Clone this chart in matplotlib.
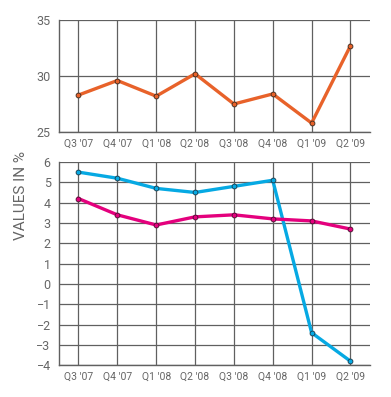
import matplotlib
matplotlib.use('Agg')
import matplotlib.pyplot as plt

quarters = ["Q3 '07", "Q4 '07", "Q1 '08", "Q2 '08", "Q3 '08", "Q4 '08", "Q1 '09", "Q2 '09"]
top_vals = [28.3, 29.6, 28.2, 30.2, 27.5, 28.4, 25.8, 32.7]
blue_vals = [5.5, 5.2, 4.7, 4.5, 4.8, 5.1, -2.4, -3.8]
pink_vals = [4.2, 3.4, 2.9, 3.3, 3.4, 3.2, 3.1, 2.7]

ORANGE = '#E8622A'
BLUE = '#06A9E3'
PINK = '#E4007D'
GRID = '#606060'
TXT = '#666666'

plt.rcParams['font.family'] = ['Roboto', 'DejaVu Sans']

fig = plt.figure(figsize=(3.91, 3.97), dpi=100)
ax1 = fig.add_axes([0.151, 0.6675, 0.795, 0.282])
ax2 = fig.add_axes([0.151, 0.080, 0.795, 0.512])

x = range(len(quarters))


def style(ax, yticks):
    ax.set_xlim(-0.5, len(quarters) - 0.5)
    ax.set_yticks(yticks)
    ax.set_ylim(yticks[0], yticks[-1])
    ax.set_xticks(list(x))
    ax.set_xticklabels(quarters)
    ax.grid(True, color=GRID, linewidth=0.9)
    ax.set_axisbelow(True)
    for s in ['top', 'right']:
        ax.spines[s].set_visible(False)
    for s in ['left', 'bottom']:
        ax.spines[s].set_color(GRID)
        ax.spines[s].set_linewidth(1.0)
    ax.tick_params(length=0, colors=TXT, labelsize=7.5)
    ax.tick_params(axis='y', labelsize=9, pad=6)
    ax.tick_params(axis='x', pad=5)


style(ax1, [25, 30, 35])
ax1.plot(x, top_vals, color=ORANGE, lw=2.4, marker='o', ms=3.5,
         mfc=ORANGE, mec='#3a2a20', mew=0.6, clip_on=False, zorder=3)

style(ax2, list(range(-4, 7)))
ax2.plot(x, blue_vals, color=BLUE, lw=2.4, marker='o', ms=3.5,
         mfc=BLUE, mec='#1a3a4a', mew=0.6, clip_on=False, zorder=3)
ax2.plot(x, pink_vals, color=PINK, lw=2.4, marker='o', ms=3.5,
         mfc=PINK, mec='#4a1030', mew=0.6, clip_on=False, zorder=3)
ax2.set_ylabel('VALUES IN %', color=TXT, fontsize=11)
ax2.yaxis.set_label_coords(-0.10, 0.835)

fig.savefig('out.png', dpi=100)
